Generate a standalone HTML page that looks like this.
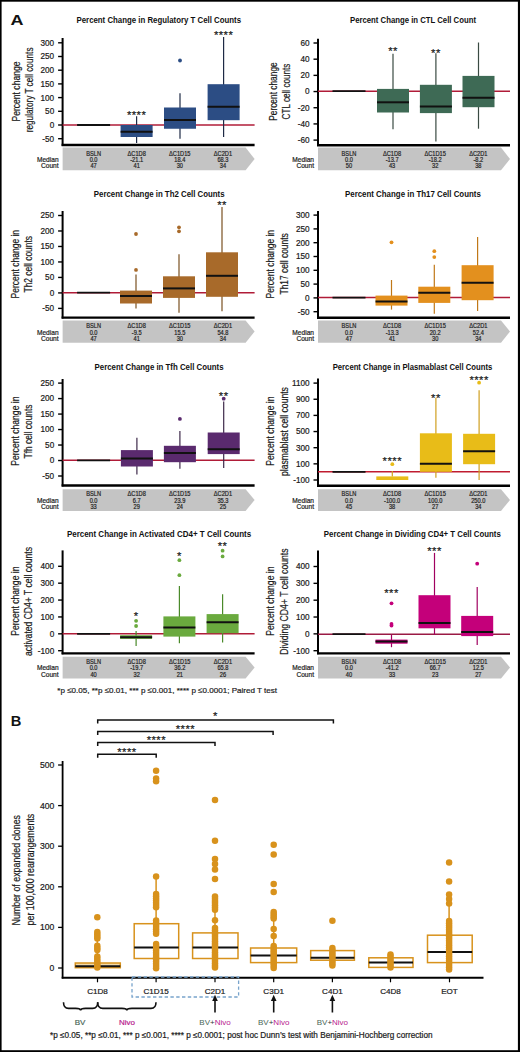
<!DOCTYPE html>
<html><head><meta charset="utf-8"><title>Figure</title>
<style>html,body{margin:0;padding:0;background:#fff;width:520px;height:1052px;overflow:hidden}</style>
</head><body>
<svg width="520" height="1052" viewBox="0 0 520 1052" style="display:block;font-family:'Liberation Sans', sans-serif">
<rect x="0.00" y="0.00" width="520.00" height="1052.00" fill="#000" stroke="none" stroke-width="0"/>
<rect x="1.60" y="1.70" width="516.30" height="1048.50" fill="#fff" stroke="none" stroke-width="0"/>
<text x="10.60" y="25.40" font-size="15.0" text-anchor="start" font-weight="bold" fill="#111" textLength="13.0" lengthAdjust="spacingAndGlyphs">A</text>
<text x="158.75" y="23.00" font-size="8.2" text-anchor="middle" font-weight="bold" fill="#111" textLength="164.5" lengthAdjust="spacingAndGlyphs">Percent Change in Regulatory T Cell Counts</text>
<text transform="translate(19.90,91.55) rotate(-90)" x="0" y="0" font-size="10.2" text-anchor="middle" font-weight="normal" fill="#1a1a1a" stroke="#1a1a1a" stroke-width="0.2" textLength="59.9" lengthAdjust="spacingAndGlyphs">Percent change</text>
<text transform="translate(33.20,89.90) rotate(-90)" x="0" y="0" font-size="10.2" text-anchor="middle" font-weight="normal" fill="#1a1a1a" stroke="#1a1a1a" stroke-width="0.2" textLength="84.80000000000001" lengthAdjust="spacingAndGlyphs">regulatory T cell counts</text>
<line x1="62.60" y1="38.00" x2="62.60" y2="145.90" stroke="#000" stroke-width="2.0"/>
<line x1="61.60" y1="145.00" x2="254.60" y2="145.00" stroke="#000" stroke-width="2.4"/>
<line x1="58.10" y1="42.80" x2="62.60" y2="42.80" stroke="#000" stroke-width="1.4"/>
<text x="54.20" y="45.70" font-size="8.2" text-anchor="end" font-weight="normal" fill="#1a1a1a" stroke="#1a1a1a" stroke-width="0.2">300</text>
<line x1="58.10" y1="56.50" x2="62.60" y2="56.50" stroke="#000" stroke-width="1.4"/>
<text x="54.20" y="59.40" font-size="8.2" text-anchor="end" font-weight="normal" fill="#1a1a1a" stroke="#1a1a1a" stroke-width="0.2">250</text>
<line x1="58.10" y1="70.20" x2="62.60" y2="70.20" stroke="#000" stroke-width="1.4"/>
<text x="54.20" y="73.10" font-size="8.2" text-anchor="end" font-weight="normal" fill="#1a1a1a" stroke="#1a1a1a" stroke-width="0.2">200</text>
<line x1="58.10" y1="83.90" x2="62.60" y2="83.90" stroke="#000" stroke-width="1.4"/>
<text x="54.20" y="86.80" font-size="8.2" text-anchor="end" font-weight="normal" fill="#1a1a1a" stroke="#1a1a1a" stroke-width="0.2">150</text>
<line x1="58.10" y1="97.60" x2="62.60" y2="97.60" stroke="#000" stroke-width="1.4"/>
<text x="54.20" y="100.50" font-size="8.2" text-anchor="end" font-weight="normal" fill="#1a1a1a" stroke="#1a1a1a" stroke-width="0.2">100</text>
<line x1="58.10" y1="111.30" x2="62.60" y2="111.30" stroke="#000" stroke-width="1.4"/>
<text x="54.20" y="114.20" font-size="8.2" text-anchor="end" font-weight="normal" fill="#1a1a1a" stroke="#1a1a1a" stroke-width="0.2">50</text>
<line x1="58.10" y1="125.00" x2="62.60" y2="125.00" stroke="#000" stroke-width="1.4"/>
<text x="54.20" y="127.90" font-size="8.2" text-anchor="end" font-weight="normal" fill="#1a1a1a" stroke="#1a1a1a" stroke-width="0.2">0</text>
<line x1="58.10" y1="138.70" x2="62.60" y2="138.70" stroke="#000" stroke-width="1.4"/>
<text x="54.20" y="141.60" font-size="8.2" text-anchor="end" font-weight="normal" fill="#1a1a1a" stroke="#1a1a1a" stroke-width="0.2">-50</text>
<line x1="62.60" y1="125.00" x2="254.60" y2="125.00" stroke="#b01c38" stroke-width="1.5"/>
<line x1="77.10" y1="125.00" x2="110.10" y2="125.00" stroke="#111" stroke-width="1.8"/>
<line x1="136.60" y1="116.25" x2="136.60" y2="143.00" stroke="#1e2a45" stroke-width="1.2"/>
<rect x="120.60" y="125.00" width="32.00" height="12.00" fill="#2c4d84" stroke="none" stroke-width="0"/>
<line x1="120.60" y1="131.75" x2="152.60" y2="131.75" stroke="#111" stroke-width="2.0"/>
<text x="136.60" y="118.50" font-size="11.2" text-anchor="middle" font-weight="normal" fill="#1a1a1a" stroke="#1a1a1a" stroke-width="0.2" letter-spacing="0.5">****</text>
<line x1="180.00" y1="93.25" x2="180.00" y2="138.75" stroke="#1e2a45" stroke-width="1.2"/>
<rect x="164.00" y="107.50" width="32.00" height="21.25" fill="#2c4d84" stroke="none" stroke-width="0"/>
<line x1="164.00" y1="120.00" x2="196.00" y2="120.00" stroke="#111" stroke-width="2.0"/>
<circle cx="180.00" cy="60.50" r="1.9" fill="#2c4d84"/>
<line x1="223.60" y1="37.00" x2="223.60" y2="137.00" stroke="#1e2a45" stroke-width="1.2"/>
<rect x="207.60" y="84.20" width="32.00" height="36.00" fill="#2c4d84" stroke="none" stroke-width="0"/>
<line x1="207.60" y1="106.80" x2="239.60" y2="106.80" stroke="#111" stroke-width="2.0"/>
<text x="223.60" y="38.50" font-size="11.2" text-anchor="middle" font-weight="normal" fill="#1a1a1a" stroke="#1a1a1a" stroke-width="0.2" letter-spacing="0.5">****</text>
<polygon points="62.60,147.50 245.60,147.50 254.60,158.90 245.60,170.30 62.60,170.30" fill="#c4c4c4"/>
<text x="93.60" y="155.70" font-size="6.6" text-anchor="middle" font-weight="normal" fill="#222" stroke="#222" stroke-width="0.2" textLength="14.83" lengthAdjust="spacingAndGlyphs">BSLN</text>
<text x="93.60" y="162.20" font-size="6.6" text-anchor="middle" font-weight="normal" fill="#222" stroke="#222" stroke-width="0.2" textLength="7.89" lengthAdjust="spacingAndGlyphs">0.0</text>
<text x="93.60" y="168.20" font-size="6.6" text-anchor="middle" font-weight="normal" fill="#222" stroke="#222" stroke-width="0.2" textLength="6.31" lengthAdjust="spacingAndGlyphs">47</text>
<text x="136.70" y="155.70" font-size="6.6" text-anchor="middle" font-weight="normal" fill="#222" stroke="#222" stroke-width="0.2" textLength="18.3" lengthAdjust="spacingAndGlyphs">ΔC1D8</text>
<text x="136.70" y="162.20" font-size="6.6" text-anchor="middle" font-weight="normal" fill="#222" stroke="#222" stroke-width="0.2" textLength="12.94" lengthAdjust="spacingAndGlyphs">-21.1</text>
<text x="136.70" y="168.20" font-size="6.6" text-anchor="middle" font-weight="normal" fill="#222" stroke="#222" stroke-width="0.2" textLength="6.31" lengthAdjust="spacingAndGlyphs">41</text>
<text x="179.80" y="155.70" font-size="6.6" text-anchor="middle" font-weight="normal" fill="#222" stroke="#222" stroke-width="0.2" textLength="21.46" lengthAdjust="spacingAndGlyphs">ΔC1D15</text>
<text x="179.80" y="162.20" font-size="6.6" text-anchor="middle" font-weight="normal" fill="#222" stroke="#222" stroke-width="0.2" textLength="11.05" lengthAdjust="spacingAndGlyphs">18.4</text>
<text x="179.80" y="168.20" font-size="6.6" text-anchor="middle" font-weight="normal" fill="#222" stroke="#222" stroke-width="0.2" textLength="6.31" lengthAdjust="spacingAndGlyphs">30</text>
<text x="222.90" y="155.70" font-size="6.6" text-anchor="middle" font-weight="normal" fill="#222" stroke="#222" stroke-width="0.2" textLength="18.3" lengthAdjust="spacingAndGlyphs">ΔC2D1</text>
<text x="222.90" y="162.20" font-size="6.6" text-anchor="middle" font-weight="normal" fill="#222" stroke="#222" stroke-width="0.2" textLength="11.05" lengthAdjust="spacingAndGlyphs">68.3</text>
<text x="222.90" y="168.20" font-size="6.6" text-anchor="middle" font-weight="normal" fill="#222" stroke="#222" stroke-width="0.2" textLength="6.31" lengthAdjust="spacingAndGlyphs">34</text>
<text x="58.60" y="162.10" font-size="6.6" text-anchor="end" font-weight="normal" fill="#222" stroke="#222" stroke-width="0.2">Median</text>
<text x="58.60" y="168.10" font-size="6.6" text-anchor="end" font-weight="normal" fill="#222" stroke="#222" stroke-width="0.2">Count</text>
<text x="413.00" y="23.00" font-size="8.2" text-anchor="middle" font-weight="bold" fill="#111" textLength="126" lengthAdjust="spacingAndGlyphs">Percent Change in CTL Cell Count</text>
<text transform="translate(276.50,91.55) rotate(-90)" x="0" y="0" font-size="10.2" text-anchor="middle" font-weight="normal" fill="#1a1a1a" stroke="#1a1a1a" stroke-width="0.2" textLength="58.5" lengthAdjust="spacingAndGlyphs">Percent change</text>
<text transform="translate(289.80,91.55) rotate(-90)" x="0" y="0" font-size="10.2" text-anchor="middle" font-weight="normal" fill="#1a1a1a" stroke="#1a1a1a" stroke-width="0.2" textLength="55.9" lengthAdjust="spacingAndGlyphs">CTL cell counts</text>
<line x1="318.00" y1="38.70" x2="318.00" y2="146.10" stroke="#000" stroke-width="2.0"/>
<line x1="317.00" y1="145.20" x2="510.00" y2="145.20" stroke="#000" stroke-width="2.4"/>
<line x1="313.50" y1="43.00" x2="318.00" y2="43.00" stroke="#000" stroke-width="1.4"/>
<text x="309.60" y="45.90" font-size="8.2" text-anchor="end" font-weight="normal" fill="#1a1a1a" stroke="#1a1a1a" stroke-width="0.2">60</text>
<line x1="313.50" y1="59.18" x2="318.00" y2="59.18" stroke="#000" stroke-width="1.4"/>
<text x="309.60" y="62.08" font-size="8.2" text-anchor="end" font-weight="normal" fill="#1a1a1a" stroke="#1a1a1a" stroke-width="0.2">40</text>
<line x1="313.50" y1="75.37" x2="318.00" y2="75.37" stroke="#000" stroke-width="1.4"/>
<text x="309.60" y="78.27" font-size="8.2" text-anchor="end" font-weight="normal" fill="#1a1a1a" stroke="#1a1a1a" stroke-width="0.2">20</text>
<line x1="313.50" y1="91.55" x2="318.00" y2="91.55" stroke="#000" stroke-width="1.4"/>
<text x="309.60" y="94.45" font-size="8.2" text-anchor="end" font-weight="normal" fill="#1a1a1a" stroke="#1a1a1a" stroke-width="0.2">0</text>
<line x1="313.50" y1="107.73" x2="318.00" y2="107.73" stroke="#000" stroke-width="1.4"/>
<text x="309.60" y="110.63" font-size="8.2" text-anchor="end" font-weight="normal" fill="#1a1a1a" stroke="#1a1a1a" stroke-width="0.2">-20</text>
<line x1="313.50" y1="123.92" x2="318.00" y2="123.92" stroke="#000" stroke-width="1.4"/>
<text x="309.60" y="126.82" font-size="8.2" text-anchor="end" font-weight="normal" fill="#1a1a1a" stroke="#1a1a1a" stroke-width="0.2">-40</text>
<line x1="313.50" y1="140.10" x2="318.00" y2="140.10" stroke="#000" stroke-width="1.4"/>
<text x="309.60" y="143.00" font-size="8.2" text-anchor="end" font-weight="normal" fill="#1a1a1a" stroke="#1a1a1a" stroke-width="0.2">-60</text>
<line x1="318.00" y1="91.20" x2="510.00" y2="91.20" stroke="#b01c38" stroke-width="1.5"/>
<line x1="332.50" y1="91.20" x2="365.50" y2="91.20" stroke="#111" stroke-width="1.8"/>
<line x1="393.00" y1="53.80" x2="393.00" y2="129.20" stroke="#3a4a42" stroke-width="1.2"/>
<rect x="377.00" y="88.90" width="32.00" height="23.60" fill="#3e6a55" stroke="none" stroke-width="0"/>
<line x1="377.00" y1="102.30" x2="409.00" y2="102.30" stroke="#111" stroke-width="2.0"/>
<text x="393.00" y="55.00" font-size="11.2" text-anchor="middle" font-weight="normal" fill="#1a1a1a" stroke="#1a1a1a" stroke-width="0.2" letter-spacing="0.5">**</text>
<line x1="435.90" y1="53.30" x2="435.90" y2="141.40" stroke="#3a4a42" stroke-width="1.2"/>
<rect x="419.90" y="84.80" width="32.00" height="28.30" fill="#3e6a55" stroke="none" stroke-width="0"/>
<line x1="419.90" y1="106.40" x2="451.90" y2="106.40" stroke="#111" stroke-width="2.0"/>
<text x="435.90" y="56.60" font-size="11.2" text-anchor="middle" font-weight="normal" fill="#1a1a1a" stroke="#1a1a1a" stroke-width="0.2" letter-spacing="0.5">**</text>
<line x1="478.50" y1="42.50" x2="478.50" y2="128.70" stroke="#3a4a42" stroke-width="1.2"/>
<rect x="462.50" y="75.90" width="32.00" height="31.30" fill="#3e6a55" stroke="none" stroke-width="0"/>
<line x1="462.50" y1="97.70" x2="494.50" y2="97.70" stroke="#111" stroke-width="2.0"/>
<polygon points="318.00,147.50 501.00,147.50 510.00,158.90 501.00,170.30 318.00,170.30" fill="#c4c4c4"/>
<text x="349.00" y="155.70" font-size="6.6" text-anchor="middle" font-weight="normal" fill="#222" stroke="#222" stroke-width="0.2" textLength="14.83" lengthAdjust="spacingAndGlyphs">BSLN</text>
<text x="349.00" y="162.20" font-size="6.6" text-anchor="middle" font-weight="normal" fill="#222" stroke="#222" stroke-width="0.2" textLength="7.89" lengthAdjust="spacingAndGlyphs">0.0</text>
<text x="349.00" y="168.20" font-size="6.6" text-anchor="middle" font-weight="normal" fill="#222" stroke="#222" stroke-width="0.2" textLength="6.31" lengthAdjust="spacingAndGlyphs">50</text>
<text x="392.10" y="155.70" font-size="6.6" text-anchor="middle" font-weight="normal" fill="#222" stroke="#222" stroke-width="0.2" textLength="18.3" lengthAdjust="spacingAndGlyphs">ΔC1D8</text>
<text x="392.10" y="162.20" font-size="6.6" text-anchor="middle" font-weight="normal" fill="#222" stroke="#222" stroke-width="0.2" textLength="12.94" lengthAdjust="spacingAndGlyphs">-13.7</text>
<text x="392.10" y="168.20" font-size="6.6" text-anchor="middle" font-weight="normal" fill="#222" stroke="#222" stroke-width="0.2" textLength="6.31" lengthAdjust="spacingAndGlyphs">43</text>
<text x="435.20" y="155.70" font-size="6.6" text-anchor="middle" font-weight="normal" fill="#222" stroke="#222" stroke-width="0.2" textLength="21.46" lengthAdjust="spacingAndGlyphs">ΔC1D15</text>
<text x="435.20" y="162.20" font-size="6.6" text-anchor="middle" font-weight="normal" fill="#222" stroke="#222" stroke-width="0.2" textLength="12.94" lengthAdjust="spacingAndGlyphs">-18.2</text>
<text x="435.20" y="168.20" font-size="6.6" text-anchor="middle" font-weight="normal" fill="#222" stroke="#222" stroke-width="0.2" textLength="6.31" lengthAdjust="spacingAndGlyphs">32</text>
<text x="478.30" y="155.70" font-size="6.6" text-anchor="middle" font-weight="normal" fill="#222" stroke="#222" stroke-width="0.2" textLength="18.3" lengthAdjust="spacingAndGlyphs">ΔC2D1</text>
<text x="478.30" y="162.20" font-size="6.6" text-anchor="middle" font-weight="normal" fill="#222" stroke="#222" stroke-width="0.2" textLength="9.78" lengthAdjust="spacingAndGlyphs">-8.2</text>
<text x="478.30" y="168.20" font-size="6.6" text-anchor="middle" font-weight="normal" fill="#222" stroke="#222" stroke-width="0.2" textLength="6.31" lengthAdjust="spacingAndGlyphs">38</text>
<text x="314.00" y="162.10" font-size="6.6" text-anchor="end" font-weight="normal" fill="#222" stroke="#222" stroke-width="0.2">Median</text>
<text x="314.00" y="168.10" font-size="6.6" text-anchor="end" font-weight="normal" fill="#222" stroke="#222" stroke-width="0.2">Count</text>
<text x="159.20" y="196.90" font-size="8.2" text-anchor="middle" font-weight="bold" fill="#111" textLength="130.8" lengthAdjust="spacingAndGlyphs">Percent Change in Th2 Cell Counts</text>
<text transform="translate(18.90,264.20) rotate(-90)" x="0" y="0" font-size="10.2" text-anchor="middle" font-weight="normal" fill="#1a1a1a" stroke="#1a1a1a" stroke-width="0.2" textLength="68.6" lengthAdjust="spacingAndGlyphs">Percent change in</text>
<text transform="translate(32.20,264.25) rotate(-90)" x="0" y="0" font-size="10.2" text-anchor="middle" font-weight="normal" fill="#1a1a1a" stroke="#1a1a1a" stroke-width="0.2" textLength="56.5" lengthAdjust="spacingAndGlyphs">Th2 cell counts</text>
<line x1="62.60" y1="211.00" x2="62.60" y2="318.50" stroke="#000" stroke-width="2.0"/>
<line x1="61.60" y1="317.60" x2="254.60" y2="317.60" stroke="#000" stroke-width="2.4"/>
<line x1="58.10" y1="215.50" x2="62.60" y2="215.50" stroke="#000" stroke-width="1.4"/>
<text x="54.20" y="218.40" font-size="8.2" text-anchor="end" font-weight="normal" fill="#1a1a1a" stroke="#1a1a1a" stroke-width="0.2">250</text>
<line x1="58.10" y1="230.98" x2="62.60" y2="230.98" stroke="#000" stroke-width="1.4"/>
<text x="54.20" y="233.88" font-size="8.2" text-anchor="end" font-weight="normal" fill="#1a1a1a" stroke="#1a1a1a" stroke-width="0.2">200</text>
<line x1="58.10" y1="246.47" x2="62.60" y2="246.47" stroke="#000" stroke-width="1.4"/>
<text x="54.20" y="249.37" font-size="8.2" text-anchor="end" font-weight="normal" fill="#1a1a1a" stroke="#1a1a1a" stroke-width="0.2">150</text>
<line x1="58.10" y1="261.95" x2="62.60" y2="261.95" stroke="#000" stroke-width="1.4"/>
<text x="54.20" y="264.85" font-size="8.2" text-anchor="end" font-weight="normal" fill="#1a1a1a" stroke="#1a1a1a" stroke-width="0.2">100</text>
<line x1="58.10" y1="277.43" x2="62.60" y2="277.43" stroke="#000" stroke-width="1.4"/>
<text x="54.20" y="280.33" font-size="8.2" text-anchor="end" font-weight="normal" fill="#1a1a1a" stroke="#1a1a1a" stroke-width="0.2">50</text>
<line x1="58.10" y1="292.92" x2="62.60" y2="292.92" stroke="#000" stroke-width="1.4"/>
<text x="54.20" y="295.82" font-size="8.2" text-anchor="end" font-weight="normal" fill="#1a1a1a" stroke="#1a1a1a" stroke-width="0.2">0</text>
<line x1="58.10" y1="308.40" x2="62.60" y2="308.40" stroke="#000" stroke-width="1.4"/>
<text x="54.20" y="311.30" font-size="8.2" text-anchor="end" font-weight="normal" fill="#1a1a1a" stroke="#1a1a1a" stroke-width="0.2">-50</text>
<line x1="62.60" y1="292.70" x2="254.60" y2="292.70" stroke="#b01c38" stroke-width="1.5"/>
<line x1="77.10" y1="292.70" x2="110.10" y2="292.70" stroke="#111" stroke-width="1.8"/>
<line x1="136.00" y1="274.40" x2="136.00" y2="308.60" stroke="#7a5020" stroke-width="1.2"/>
<rect x="120.00" y="290.60" width="32.00" height="12.90" fill="#a86a2a" stroke="none" stroke-width="0"/>
<line x1="120.00" y1="296.00" x2="152.00" y2="296.00" stroke="#111" stroke-width="2.0"/>
<circle cx="136.00" cy="234.00" r="1.9" fill="#a86a2a"/>
<circle cx="136.00" cy="269.90" r="1.9" fill="#a86a2a"/>
<line x1="179.00" y1="254.20" x2="179.00" y2="312.70" stroke="#7a5020" stroke-width="1.2"/>
<rect x="163.00" y="276.30" width="32.00" height="21.60" fill="#a86a2a" stroke="none" stroke-width="0"/>
<line x1="163.00" y1="288.40" x2="195.00" y2="288.40" stroke="#111" stroke-width="2.0"/>
<circle cx="179.00" cy="227.30" r="1.9" fill="#a86a2a"/>
<circle cx="179.00" cy="231.30" r="1.9" fill="#a86a2a"/>
<line x1="222.00" y1="207.10" x2="222.00" y2="311.30" stroke="#7a5020" stroke-width="1.2"/>
<rect x="206.00" y="252.30" width="32.00" height="44.50" fill="#a86a2a" stroke="none" stroke-width="0"/>
<line x1="206.00" y1="275.80" x2="238.00" y2="275.80" stroke="#111" stroke-width="2.0"/>
<text x="222.00" y="209.00" font-size="11.2" text-anchor="middle" font-weight="normal" fill="#1a1a1a" stroke="#1a1a1a" stroke-width="0.2" letter-spacing="0.5">**</text>
<polygon points="62.60,320.50 245.60,320.50 254.60,331.60 245.60,342.70 62.60,342.70" fill="#c4c4c4"/>
<text x="93.60" y="328.40" font-size="6.6" text-anchor="middle" font-weight="normal" fill="#222" stroke="#222" stroke-width="0.2" textLength="14.83" lengthAdjust="spacingAndGlyphs">BSLN</text>
<text x="93.60" y="334.65" font-size="6.6" text-anchor="middle" font-weight="normal" fill="#222" stroke="#222" stroke-width="0.2" textLength="7.89" lengthAdjust="spacingAndGlyphs">0.0</text>
<text x="93.60" y="341.15" font-size="6.6" text-anchor="middle" font-weight="normal" fill="#222" stroke="#222" stroke-width="0.2" textLength="6.31" lengthAdjust="spacingAndGlyphs">47</text>
<text x="136.70" y="328.40" font-size="6.6" text-anchor="middle" font-weight="normal" fill="#222" stroke="#222" stroke-width="0.2" textLength="18.3" lengthAdjust="spacingAndGlyphs">ΔC1D8</text>
<text x="136.70" y="334.65" font-size="6.6" text-anchor="middle" font-weight="normal" fill="#222" stroke="#222" stroke-width="0.2" textLength="9.78" lengthAdjust="spacingAndGlyphs">-9.5</text>
<text x="136.70" y="341.15" font-size="6.6" text-anchor="middle" font-weight="normal" fill="#222" stroke="#222" stroke-width="0.2" textLength="6.31" lengthAdjust="spacingAndGlyphs">41</text>
<text x="179.80" y="328.40" font-size="6.6" text-anchor="middle" font-weight="normal" fill="#222" stroke="#222" stroke-width="0.2" textLength="21.46" lengthAdjust="spacingAndGlyphs">ΔC1D15</text>
<text x="179.80" y="334.65" font-size="6.6" text-anchor="middle" font-weight="normal" fill="#222" stroke="#222" stroke-width="0.2" textLength="11.05" lengthAdjust="spacingAndGlyphs">15.5</text>
<text x="179.80" y="341.15" font-size="6.6" text-anchor="middle" font-weight="normal" fill="#222" stroke="#222" stroke-width="0.2" textLength="6.31" lengthAdjust="spacingAndGlyphs">30</text>
<text x="222.90" y="328.40" font-size="6.6" text-anchor="middle" font-weight="normal" fill="#222" stroke="#222" stroke-width="0.2" textLength="18.3" lengthAdjust="spacingAndGlyphs">ΔC2D1</text>
<text x="222.90" y="334.65" font-size="6.6" text-anchor="middle" font-weight="normal" fill="#222" stroke="#222" stroke-width="0.2" textLength="11.05" lengthAdjust="spacingAndGlyphs">54.8</text>
<text x="222.90" y="341.15" font-size="6.6" text-anchor="middle" font-weight="normal" fill="#222" stroke="#222" stroke-width="0.2" textLength="6.31" lengthAdjust="spacingAndGlyphs">34</text>
<text x="58.60" y="334.55" font-size="6.6" text-anchor="end" font-weight="normal" fill="#222" stroke="#222" stroke-width="0.2">Median</text>
<text x="58.60" y="341.05" font-size="6.6" text-anchor="end" font-weight="normal" fill="#222" stroke="#222" stroke-width="0.2">Count</text>
<text x="412.90" y="196.90" font-size="8.2" text-anchor="middle" font-weight="bold" fill="#111" textLength="135.8" lengthAdjust="spacingAndGlyphs">Percent Change in Th17 Cell Counts</text>
<text transform="translate(274.30,264.20) rotate(-90)" x="0" y="0" font-size="10.2" text-anchor="middle" font-weight="normal" fill="#1a1a1a" stroke="#1a1a1a" stroke-width="0.2" textLength="68.6" lengthAdjust="spacingAndGlyphs">Percent change in</text>
<text transform="translate(287.60,263.90) rotate(-90)" x="0" y="0" font-size="10.2" text-anchor="middle" font-weight="normal" fill="#1a1a1a" stroke="#1a1a1a" stroke-width="0.2" textLength="61.19999999999999" lengthAdjust="spacingAndGlyphs">Th17 cell counts</text>
<line x1="318.00" y1="211.00" x2="318.00" y2="318.70" stroke="#000" stroke-width="2.0"/>
<line x1="317.00" y1="317.80" x2="510.00" y2="317.80" stroke="#000" stroke-width="2.4"/>
<line x1="313.50" y1="215.10" x2="318.00" y2="215.10" stroke="#000" stroke-width="1.4"/>
<text x="309.60" y="218.00" font-size="8.2" text-anchor="end" font-weight="normal" fill="#1a1a1a" stroke="#1a1a1a" stroke-width="0.2">300</text>
<line x1="313.50" y1="228.90" x2="318.00" y2="228.90" stroke="#000" stroke-width="1.4"/>
<text x="309.60" y="231.80" font-size="8.2" text-anchor="end" font-weight="normal" fill="#1a1a1a" stroke="#1a1a1a" stroke-width="0.2">250</text>
<line x1="313.50" y1="242.70" x2="318.00" y2="242.70" stroke="#000" stroke-width="1.4"/>
<text x="309.60" y="245.60" font-size="8.2" text-anchor="end" font-weight="normal" fill="#1a1a1a" stroke="#1a1a1a" stroke-width="0.2">200</text>
<line x1="313.50" y1="256.50" x2="318.00" y2="256.50" stroke="#000" stroke-width="1.4"/>
<text x="309.60" y="259.40" font-size="8.2" text-anchor="end" font-weight="normal" fill="#1a1a1a" stroke="#1a1a1a" stroke-width="0.2">150</text>
<line x1="313.50" y1="270.30" x2="318.00" y2="270.30" stroke="#000" stroke-width="1.4"/>
<text x="309.60" y="273.20" font-size="8.2" text-anchor="end" font-weight="normal" fill="#1a1a1a" stroke="#1a1a1a" stroke-width="0.2">100</text>
<line x1="313.50" y1="284.10" x2="318.00" y2="284.10" stroke="#000" stroke-width="1.4"/>
<text x="309.60" y="287.00" font-size="8.2" text-anchor="end" font-weight="normal" fill="#1a1a1a" stroke="#1a1a1a" stroke-width="0.2">50</text>
<line x1="313.50" y1="297.90" x2="318.00" y2="297.90" stroke="#000" stroke-width="1.4"/>
<text x="309.60" y="300.80" font-size="8.2" text-anchor="end" font-weight="normal" fill="#1a1a1a" stroke="#1a1a1a" stroke-width="0.2">0</text>
<line x1="313.50" y1="311.70" x2="318.00" y2="311.70" stroke="#000" stroke-width="1.4"/>
<text x="309.60" y="314.60" font-size="8.2" text-anchor="end" font-weight="normal" fill="#1a1a1a" stroke="#1a1a1a" stroke-width="0.2">-50</text>
<line x1="318.00" y1="297.60" x2="510.00" y2="297.60" stroke="#b01c38" stroke-width="1.5"/>
<line x1="332.50" y1="297.60" x2="365.50" y2="297.60" stroke="#111" stroke-width="1.8"/>
<line x1="391.50" y1="280.00" x2="391.50" y2="309.60" stroke="#c07818" stroke-width="1.2"/>
<rect x="375.50" y="295.60" width="32.00" height="10.00" fill="#e3901e" stroke="none" stroke-width="0"/>
<line x1="375.50" y1="301.50" x2="407.50" y2="301.50" stroke="#111" stroke-width="2.0"/>
<circle cx="391.50" cy="242.30" r="1.9" fill="#e3901e"/>
<line x1="434.30" y1="264.70" x2="434.30" y2="313.70" stroke="#c07818" stroke-width="1.2"/>
<rect x="418.30" y="286.70" width="32.00" height="16.20" fill="#e3901e" stroke="none" stroke-width="0"/>
<line x1="418.30" y1="292.70" x2="450.30" y2="292.70" stroke="#111" stroke-width="2.0"/>
<circle cx="434.30" cy="251.20" r="1.9" fill="#e3901e"/>
<circle cx="434.30" cy="257.10" r="1.9" fill="#e3901e"/>
<line x1="477.60" y1="236.90" x2="477.60" y2="311.00" stroke="#c07818" stroke-width="1.2"/>
<rect x="461.60" y="265.20" width="32.00" height="35.00" fill="#e3901e" stroke="none" stroke-width="0"/>
<line x1="461.60" y1="282.70" x2="493.60" y2="282.70" stroke="#111" stroke-width="2.0"/>
<polygon points="318.00,320.50 501.00,320.50 510.00,331.60 501.00,342.70 318.00,342.70" fill="#c4c4c4"/>
<text x="349.00" y="328.40" font-size="6.6" text-anchor="middle" font-weight="normal" fill="#222" stroke="#222" stroke-width="0.2" textLength="14.83" lengthAdjust="spacingAndGlyphs">BSLN</text>
<text x="349.00" y="334.65" font-size="6.6" text-anchor="middle" font-weight="normal" fill="#222" stroke="#222" stroke-width="0.2" textLength="7.89" lengthAdjust="spacingAndGlyphs">0.0</text>
<text x="349.00" y="341.15" font-size="6.6" text-anchor="middle" font-weight="normal" fill="#222" stroke="#222" stroke-width="0.2" textLength="6.31" lengthAdjust="spacingAndGlyphs">47</text>
<text x="392.10" y="328.40" font-size="6.6" text-anchor="middle" font-weight="normal" fill="#222" stroke="#222" stroke-width="0.2" textLength="18.3" lengthAdjust="spacingAndGlyphs">ΔC1D8</text>
<text x="392.10" y="334.65" font-size="6.6" text-anchor="middle" font-weight="normal" fill="#222" stroke="#222" stroke-width="0.2" textLength="12.94" lengthAdjust="spacingAndGlyphs">-13.3</text>
<text x="392.10" y="341.15" font-size="6.6" text-anchor="middle" font-weight="normal" fill="#222" stroke="#222" stroke-width="0.2" textLength="6.31" lengthAdjust="spacingAndGlyphs">41</text>
<text x="435.20" y="328.40" font-size="6.6" text-anchor="middle" font-weight="normal" fill="#222" stroke="#222" stroke-width="0.2" textLength="21.46" lengthAdjust="spacingAndGlyphs">ΔC1D15</text>
<text x="435.20" y="334.65" font-size="6.6" text-anchor="middle" font-weight="normal" fill="#222" stroke="#222" stroke-width="0.2" textLength="11.05" lengthAdjust="spacingAndGlyphs">20.2</text>
<text x="435.20" y="341.15" font-size="6.6" text-anchor="middle" font-weight="normal" fill="#222" stroke="#222" stroke-width="0.2" textLength="6.31" lengthAdjust="spacingAndGlyphs">30</text>
<text x="478.30" y="328.40" font-size="6.6" text-anchor="middle" font-weight="normal" fill="#222" stroke="#222" stroke-width="0.2" textLength="18.3" lengthAdjust="spacingAndGlyphs">ΔC2D1</text>
<text x="478.30" y="334.65" font-size="6.6" text-anchor="middle" font-weight="normal" fill="#222" stroke="#222" stroke-width="0.2" textLength="11.05" lengthAdjust="spacingAndGlyphs">52.4</text>
<text x="478.30" y="341.15" font-size="6.6" text-anchor="middle" font-weight="normal" fill="#222" stroke="#222" stroke-width="0.2" textLength="6.31" lengthAdjust="spacingAndGlyphs">34</text>
<text x="314.00" y="334.55" font-size="6.6" text-anchor="end" font-weight="normal" fill="#222" stroke="#222" stroke-width="0.2">Median</text>
<text x="314.00" y="341.05" font-size="6.6" text-anchor="end" font-weight="normal" fill="#222" stroke="#222" stroke-width="0.2">Count</text>
<text x="159.05" y="369.90" font-size="8.2" text-anchor="middle" font-weight="bold" fill="#111" textLength="128.9" lengthAdjust="spacingAndGlyphs">Percent Change in Tfh Cell Counts</text>
<text transform="translate(18.90,431.15) rotate(-90)" x="0" y="0" font-size="10.2" text-anchor="middle" font-weight="normal" fill="#1a1a1a" stroke="#1a1a1a" stroke-width="0.2" textLength="69.30000000000001" lengthAdjust="spacingAndGlyphs">Percent change in</text>
<text transform="translate(32.20,431.50) rotate(-90)" x="0" y="0" font-size="10.2" text-anchor="middle" font-weight="normal" fill="#1a1a1a" stroke="#1a1a1a" stroke-width="0.2" textLength="53.799999999999955" lengthAdjust="spacingAndGlyphs">Tfh cell counts</text>
<line x1="62.60" y1="379.00" x2="62.60" y2="486.40" stroke="#000" stroke-width="2.0"/>
<line x1="61.60" y1="485.50" x2="254.60" y2="485.50" stroke="#000" stroke-width="2.4"/>
<line x1="58.10" y1="383.10" x2="62.60" y2="383.10" stroke="#000" stroke-width="1.4"/>
<text x="54.20" y="386.00" font-size="8.2" text-anchor="end" font-weight="normal" fill="#1a1a1a" stroke="#1a1a1a" stroke-width="0.2">250</text>
<line x1="58.10" y1="398.58" x2="62.60" y2="398.58" stroke="#000" stroke-width="1.4"/>
<text x="54.20" y="401.48" font-size="8.2" text-anchor="end" font-weight="normal" fill="#1a1a1a" stroke="#1a1a1a" stroke-width="0.2">200</text>
<line x1="58.10" y1="414.07" x2="62.60" y2="414.07" stroke="#000" stroke-width="1.4"/>
<text x="54.20" y="416.97" font-size="8.2" text-anchor="end" font-weight="normal" fill="#1a1a1a" stroke="#1a1a1a" stroke-width="0.2">150</text>
<line x1="58.10" y1="429.55" x2="62.60" y2="429.55" stroke="#000" stroke-width="1.4"/>
<text x="54.20" y="432.45" font-size="8.2" text-anchor="end" font-weight="normal" fill="#1a1a1a" stroke="#1a1a1a" stroke-width="0.2">100</text>
<line x1="58.10" y1="445.03" x2="62.60" y2="445.03" stroke="#000" stroke-width="1.4"/>
<text x="54.20" y="447.93" font-size="8.2" text-anchor="end" font-weight="normal" fill="#1a1a1a" stroke="#1a1a1a" stroke-width="0.2">50</text>
<line x1="58.10" y1="460.52" x2="62.60" y2="460.52" stroke="#000" stroke-width="1.4"/>
<text x="54.20" y="463.42" font-size="8.2" text-anchor="end" font-weight="normal" fill="#1a1a1a" stroke="#1a1a1a" stroke-width="0.2">0</text>
<line x1="58.10" y1="476.00" x2="62.60" y2="476.00" stroke="#000" stroke-width="1.4"/>
<text x="54.20" y="478.90" font-size="8.2" text-anchor="end" font-weight="normal" fill="#1a1a1a" stroke="#1a1a1a" stroke-width="0.2">-50</text>
<line x1="62.60" y1="460.30" x2="254.60" y2="460.30" stroke="#b01c38" stroke-width="1.5"/>
<line x1="77.10" y1="460.30" x2="110.10" y2="460.30" stroke="#111" stroke-width="1.8"/>
<line x1="136.90" y1="437.70" x2="136.90" y2="474.60" stroke="#3e2a4a" stroke-width="1.2"/>
<rect x="120.90" y="450.10" width="32.00" height="16.40" fill="#5a2a6e" stroke="none" stroke-width="0"/>
<line x1="120.90" y1="458.50" x2="152.90" y2="458.50" stroke="#111" stroke-width="2.0"/>
<line x1="179.90" y1="431.00" x2="179.90" y2="468.80" stroke="#3e2a4a" stroke-width="1.2"/>
<rect x="163.90" y="445.80" width="32.00" height="16.40" fill="#5a2a6e" stroke="none" stroke-width="0"/>
<line x1="163.90" y1="453.00" x2="195.90" y2="453.00" stroke="#111" stroke-width="2.0"/>
<circle cx="179.90" cy="418.90" r="1.9" fill="#5a2a6e"/>
<line x1="223.70" y1="401.60" x2="223.70" y2="468.00" stroke="#3e2a4a" stroke-width="1.2"/>
<rect x="207.70" y="432.50" width="32.00" height="21.60" fill="#5a2a6e" stroke="none" stroke-width="0"/>
<line x1="207.70" y1="449.20" x2="239.70" y2="449.20" stroke="#111" stroke-width="2.0"/>
<circle cx="223.70" cy="398.70" r="1.9" fill="#5a2a6e"/>
<text x="223.70" y="399.60" font-size="11.2" text-anchor="middle" font-weight="normal" fill="#1a1a1a" stroke="#1a1a1a" stroke-width="0.2" letter-spacing="0.5">**</text>
<polygon points="62.60,489.25 245.60,489.25 254.60,500.07 245.60,510.90 62.60,510.90" fill="#c4c4c4"/>
<text x="93.60" y="496.40" font-size="6.6" text-anchor="middle" font-weight="normal" fill="#222" stroke="#222" stroke-width="0.2" textLength="14.83" lengthAdjust="spacingAndGlyphs">BSLN</text>
<text x="93.60" y="502.90" font-size="6.6" text-anchor="middle" font-weight="normal" fill="#222" stroke="#222" stroke-width="0.2" textLength="7.89" lengthAdjust="spacingAndGlyphs">0.0</text>
<text x="93.60" y="509.20" font-size="6.6" text-anchor="middle" font-weight="normal" fill="#222" stroke="#222" stroke-width="0.2" textLength="6.31" lengthAdjust="spacingAndGlyphs">33</text>
<text x="136.70" y="496.40" font-size="6.6" text-anchor="middle" font-weight="normal" fill="#222" stroke="#222" stroke-width="0.2" textLength="18.3" lengthAdjust="spacingAndGlyphs">ΔC1D8</text>
<text x="136.70" y="502.90" font-size="6.6" text-anchor="middle" font-weight="normal" fill="#222" stroke="#222" stroke-width="0.2" textLength="7.89" lengthAdjust="spacingAndGlyphs">6.7</text>
<text x="136.70" y="509.20" font-size="6.6" text-anchor="middle" font-weight="normal" fill="#222" stroke="#222" stroke-width="0.2" textLength="6.31" lengthAdjust="spacingAndGlyphs">29</text>
<text x="179.80" y="496.40" font-size="6.6" text-anchor="middle" font-weight="normal" fill="#222" stroke="#222" stroke-width="0.2" textLength="21.46" lengthAdjust="spacingAndGlyphs">ΔC1D15</text>
<text x="179.80" y="502.90" font-size="6.6" text-anchor="middle" font-weight="normal" fill="#222" stroke="#222" stroke-width="0.2" textLength="11.05" lengthAdjust="spacingAndGlyphs">23.9</text>
<text x="179.80" y="509.20" font-size="6.6" text-anchor="middle" font-weight="normal" fill="#222" stroke="#222" stroke-width="0.2" textLength="6.31" lengthAdjust="spacingAndGlyphs">24</text>
<text x="222.90" y="496.40" font-size="6.6" text-anchor="middle" font-weight="normal" fill="#222" stroke="#222" stroke-width="0.2" textLength="18.3" lengthAdjust="spacingAndGlyphs">ΔC2D1</text>
<text x="222.90" y="502.90" font-size="6.6" text-anchor="middle" font-weight="normal" fill="#222" stroke="#222" stroke-width="0.2" textLength="11.05" lengthAdjust="spacingAndGlyphs">35.3</text>
<text x="222.90" y="509.20" font-size="6.6" text-anchor="middle" font-weight="normal" fill="#222" stroke="#222" stroke-width="0.2" textLength="6.31" lengthAdjust="spacingAndGlyphs">25</text>
<text x="58.60" y="502.80" font-size="6.6" text-anchor="end" font-weight="normal" fill="#222" stroke="#222" stroke-width="0.2">Median</text>
<text x="58.60" y="509.10" font-size="6.6" text-anchor="end" font-weight="normal" fill="#222" stroke="#222" stroke-width="0.2">Count</text>
<text x="412.50" y="369.90" font-size="8.2" text-anchor="middle" font-weight="bold" fill="#111" textLength="159.60000000000002" lengthAdjust="spacingAndGlyphs">Percent Change in Plasmablast Cell Counts</text>
<text transform="translate(274.30,431.15) rotate(-90)" x="0" y="0" font-size="10.2" text-anchor="middle" font-weight="normal" fill="#1a1a1a" stroke="#1a1a1a" stroke-width="0.2" textLength="69.30000000000001" lengthAdjust="spacingAndGlyphs">Percent change in</text>
<text transform="translate(287.60,431.55) rotate(-90)" x="0" y="0" font-size="10.2" text-anchor="middle" font-weight="normal" fill="#1a1a1a" stroke="#1a1a1a" stroke-width="0.2" textLength="88.89999999999998" lengthAdjust="spacingAndGlyphs">plasmablast cell counts</text>
<line x1="318.00" y1="378.40" x2="318.00" y2="486.70" stroke="#000" stroke-width="2.0"/>
<line x1="317.00" y1="485.80" x2="510.00" y2="485.80" stroke="#000" stroke-width="2.4"/>
<line x1="313.50" y1="383.10" x2="318.00" y2="383.10" stroke="#000" stroke-width="1.4"/>
<text x="309.60" y="386.00" font-size="8.2" text-anchor="end" font-weight="normal" fill="#1a1a1a" stroke="#1a1a1a" stroke-width="0.2">1100</text>
<line x1="313.50" y1="399.25" x2="318.00" y2="399.25" stroke="#000" stroke-width="1.4"/>
<text x="309.60" y="402.15" font-size="8.2" text-anchor="end" font-weight="normal" fill="#1a1a1a" stroke="#1a1a1a" stroke-width="0.2">900</text>
<line x1="313.50" y1="415.40" x2="318.00" y2="415.40" stroke="#000" stroke-width="1.4"/>
<text x="309.60" y="418.30" font-size="8.2" text-anchor="end" font-weight="normal" fill="#1a1a1a" stroke="#1a1a1a" stroke-width="0.2">700</text>
<line x1="313.50" y1="431.55" x2="318.00" y2="431.55" stroke="#000" stroke-width="1.4"/>
<text x="309.60" y="434.45" font-size="8.2" text-anchor="end" font-weight="normal" fill="#1a1a1a" stroke="#1a1a1a" stroke-width="0.2">500</text>
<line x1="313.50" y1="447.70" x2="318.00" y2="447.70" stroke="#000" stroke-width="1.4"/>
<text x="309.60" y="450.60" font-size="8.2" text-anchor="end" font-weight="normal" fill="#1a1a1a" stroke="#1a1a1a" stroke-width="0.2">300</text>
<line x1="313.50" y1="463.85" x2="318.00" y2="463.85" stroke="#000" stroke-width="1.4"/>
<text x="309.60" y="466.75" font-size="8.2" text-anchor="end" font-weight="normal" fill="#1a1a1a" stroke="#1a1a1a" stroke-width="0.2">100</text>
<line x1="313.50" y1="480.00" x2="318.00" y2="480.00" stroke="#000" stroke-width="1.4"/>
<text x="309.60" y="482.90" font-size="8.2" text-anchor="end" font-weight="normal" fill="#1a1a1a" stroke="#1a1a1a" stroke-width="0.2">-100</text>
<line x1="318.00" y1="471.80" x2="510.00" y2="471.80" stroke="#c01c30" stroke-width="1.5"/>
<line x1="332.50" y1="471.80" x2="365.50" y2="471.80" stroke="#111" stroke-width="1.8"/>
<line x1="392.30" y1="471.00" x2="392.30" y2="476.40" stroke="#d0a020" stroke-width="1.2"/>
<rect x="376.30" y="476.40" width="32.00" height="3.60" fill="#e8bc18" stroke="none" stroke-width="0"/>
<circle cx="392.30" cy="464.20" r="1.9" fill="#e8bc18"/>
<text x="392.30" y="464.90" font-size="11.2" text-anchor="middle" font-weight="normal" fill="#1a1a1a" stroke="#1a1a1a" stroke-width="0.2" letter-spacing="0.5">****</text>
<line x1="435.90" y1="397.70" x2="435.90" y2="477.70" stroke="#d0a020" stroke-width="1.2"/>
<rect x="419.90" y="433.30" width="32.00" height="38.50" fill="#e8bc18" stroke="none" stroke-width="0"/>
<line x1="419.90" y1="463.70" x2="451.90" y2="463.70" stroke="#111" stroke-width="2.0"/>
<text x="435.90" y="401.60" font-size="11.2" text-anchor="middle" font-weight="normal" fill="#1a1a1a" stroke="#1a1a1a" stroke-width="0.2" letter-spacing="0.5">**</text>
<line x1="479.10" y1="390.20" x2="479.10" y2="479.90" stroke="#d0a020" stroke-width="1.2"/>
<rect x="463.10" y="433.80" width="32.00" height="30.40" fill="#e8bc18" stroke="none" stroke-width="0"/>
<line x1="463.10" y1="451.30" x2="495.10" y2="451.30" stroke="#111" stroke-width="2.0"/>
<circle cx="479.10" cy="382.70" r="1.9" fill="#e8bc18"/>
<text x="479.10" y="384.10" font-size="11.2" text-anchor="middle" font-weight="normal" fill="#1a1a1a" stroke="#1a1a1a" stroke-width="0.2" letter-spacing="0.5">****</text>
<polygon points="318.00,489.25 501.00,489.25 510.00,500.07 501.00,510.90 318.00,510.90" fill="#c4c4c4"/>
<text x="349.00" y="496.40" font-size="6.6" text-anchor="middle" font-weight="normal" fill="#222" stroke="#222" stroke-width="0.2" textLength="14.83" lengthAdjust="spacingAndGlyphs">BSLN</text>
<text x="349.00" y="502.90" font-size="6.6" text-anchor="middle" font-weight="normal" fill="#222" stroke="#222" stroke-width="0.2" textLength="7.89" lengthAdjust="spacingAndGlyphs">0.0</text>
<text x="349.00" y="509.20" font-size="6.6" text-anchor="middle" font-weight="normal" fill="#222" stroke="#222" stroke-width="0.2" textLength="6.31" lengthAdjust="spacingAndGlyphs">45</text>
<text x="392.10" y="496.40" font-size="6.6" text-anchor="middle" font-weight="normal" fill="#222" stroke="#222" stroke-width="0.2" textLength="18.3" lengthAdjust="spacingAndGlyphs">ΔC1D8</text>
<text x="392.10" y="502.90" font-size="6.6" text-anchor="middle" font-weight="normal" fill="#222" stroke="#222" stroke-width="0.2" textLength="16.09" lengthAdjust="spacingAndGlyphs">-100.0</text>
<text x="392.10" y="509.20" font-size="6.6" text-anchor="middle" font-weight="normal" fill="#222" stroke="#222" stroke-width="0.2" textLength="6.31" lengthAdjust="spacingAndGlyphs">38</text>
<text x="435.20" y="496.40" font-size="6.6" text-anchor="middle" font-weight="normal" fill="#222" stroke="#222" stroke-width="0.2" textLength="21.46" lengthAdjust="spacingAndGlyphs">ΔC1D15</text>
<text x="435.20" y="502.90" font-size="6.6" text-anchor="middle" font-weight="normal" fill="#222" stroke="#222" stroke-width="0.2" textLength="14.2" lengthAdjust="spacingAndGlyphs">100.0</text>
<text x="435.20" y="509.20" font-size="6.6" text-anchor="middle" font-weight="normal" fill="#222" stroke="#222" stroke-width="0.2" textLength="6.31" lengthAdjust="spacingAndGlyphs">27</text>
<text x="478.30" y="496.40" font-size="6.6" text-anchor="middle" font-weight="normal" fill="#222" stroke="#222" stroke-width="0.2" textLength="18.3" lengthAdjust="spacingAndGlyphs">ΔC2D1</text>
<text x="478.30" y="502.90" font-size="6.6" text-anchor="middle" font-weight="normal" fill="#222" stroke="#222" stroke-width="0.2" textLength="14.2" lengthAdjust="spacingAndGlyphs">250.0</text>
<text x="478.30" y="509.20" font-size="6.6" text-anchor="middle" font-weight="normal" fill="#222" stroke="#222" stroke-width="0.2" textLength="6.31" lengthAdjust="spacingAndGlyphs">34</text>
<text x="314.00" y="502.80" font-size="6.6" text-anchor="end" font-weight="normal" fill="#222" stroke="#222" stroke-width="0.2">Median</text>
<text x="314.00" y="509.10" font-size="6.6" text-anchor="end" font-weight="normal" fill="#222" stroke="#222" stroke-width="0.2">Count</text>
<text x="159.05" y="536.90" font-size="8.2" text-anchor="middle" font-weight="bold" fill="#111" textLength="184.29999999999998" lengthAdjust="spacingAndGlyphs">Percent Change in Activated CD4+ T Cell Counts</text>
<text transform="translate(18.90,601.15) rotate(-90)" x="0" y="0" font-size="10.2" text-anchor="middle" font-weight="normal" fill="#1a1a1a" stroke="#1a1a1a" stroke-width="0.2" textLength="69.29999999999995" lengthAdjust="spacingAndGlyphs">Percent change in</text>
<text transform="translate(32.20,601.50) rotate(-90)" x="0" y="0" font-size="10.2" text-anchor="middle" font-weight="normal" fill="#1a1a1a" stroke="#1a1a1a" stroke-width="0.2" textLength="109.0" lengthAdjust="spacingAndGlyphs">activated CD4+ T cell counts</text>
<line x1="62.60" y1="550.40" x2="62.60" y2="654.30" stroke="#000" stroke-width="2.0"/>
<line x1="61.60" y1="653.40" x2="254.60" y2="653.40" stroke="#000" stroke-width="2.4"/>
<line x1="58.10" y1="566.30" x2="62.60" y2="566.30" stroke="#000" stroke-width="1.4"/>
<text x="54.20" y="569.20" font-size="8.2" text-anchor="end" font-weight="normal" fill="#1a1a1a" stroke="#1a1a1a" stroke-width="0.2">400</text>
<line x1="58.10" y1="583.18" x2="62.60" y2="583.18" stroke="#000" stroke-width="1.4"/>
<text x="54.20" y="586.08" font-size="8.2" text-anchor="end" font-weight="normal" fill="#1a1a1a" stroke="#1a1a1a" stroke-width="0.2">300</text>
<line x1="58.10" y1="600.06" x2="62.60" y2="600.06" stroke="#000" stroke-width="1.4"/>
<text x="54.20" y="602.96" font-size="8.2" text-anchor="end" font-weight="normal" fill="#1a1a1a" stroke="#1a1a1a" stroke-width="0.2">200</text>
<line x1="58.10" y1="616.94" x2="62.60" y2="616.94" stroke="#000" stroke-width="1.4"/>
<text x="54.20" y="619.84" font-size="8.2" text-anchor="end" font-weight="normal" fill="#1a1a1a" stroke="#1a1a1a" stroke-width="0.2">100</text>
<line x1="58.10" y1="633.82" x2="62.60" y2="633.82" stroke="#000" stroke-width="1.4"/>
<text x="54.20" y="636.72" font-size="8.2" text-anchor="end" font-weight="normal" fill="#1a1a1a" stroke="#1a1a1a" stroke-width="0.2">0</text>
<line x1="58.10" y1="650.70" x2="62.60" y2="650.70" stroke="#000" stroke-width="1.4"/>
<text x="54.20" y="653.60" font-size="8.2" text-anchor="end" font-weight="normal" fill="#1a1a1a" stroke="#1a1a1a" stroke-width="0.2">-100</text>
<line x1="62.60" y1="633.80" x2="254.60" y2="633.80" stroke="#b01c38" stroke-width="1.5"/>
<line x1="77.10" y1="633.80" x2="110.10" y2="633.80" stroke="#111" stroke-width="1.8"/>
<line x1="136.10" y1="630.90" x2="136.10" y2="646.10" stroke="#4a8a2a" stroke-width="1.2"/>
<rect x="120.10" y="635.20" width="32.00" height="3.70" fill="#6aaa3e" stroke="none" stroke-width="0"/>
<line x1="120.10" y1="637.20" x2="152.10" y2="637.20" stroke="#111" stroke-width="2.0"/>
<circle cx="136.10" cy="620.80" r="1.9" fill="#6aaa3e"/>
<circle cx="136.10" cy="626.00" r="1.9" fill="#6aaa3e"/>
<text x="136.10" y="620.40" font-size="11.2" text-anchor="middle" font-weight="normal" fill="#1a1a1a" stroke="#1a1a1a" stroke-width="0.2" letter-spacing="0.5">*</text>
<line x1="179.40" y1="586.10" x2="179.40" y2="643.30" stroke="#4a8a2a" stroke-width="1.2"/>
<rect x="163.40" y="616.40" width="32.00" height="20.20" fill="#6aaa3e" stroke="none" stroke-width="0"/>
<line x1="163.40" y1="627.40" x2="195.40" y2="627.40" stroke="#111" stroke-width="2.0"/>
<circle cx="179.40" cy="560.20" r="1.9" fill="#6aaa3e"/>
<circle cx="179.40" cy="575.20" r="1.9" fill="#6aaa3e"/>
<text x="179.40" y="559.60" font-size="11.2" text-anchor="middle" font-weight="normal" fill="#1a1a1a" stroke="#1a1a1a" stroke-width="0.2" letter-spacing="0.5">*</text>
<line x1="222.60" y1="594.20" x2="222.60" y2="642.40" stroke="#4a8a2a" stroke-width="1.2"/>
<rect x="206.60" y="614.10" width="32.00" height="19.10" fill="#6aaa3e" stroke="none" stroke-width="0"/>
<line x1="206.60" y1="622.20" x2="238.60" y2="622.20" stroke="#111" stroke-width="2.0"/>
<circle cx="222.60" cy="550.70" r="1.9" fill="#6aaa3e"/>
<circle cx="222.60" cy="556.40" r="1.9" fill="#6aaa3e"/>
<text x="222.60" y="549.50" font-size="11.2" text-anchor="middle" font-weight="normal" fill="#1a1a1a" stroke="#1a1a1a" stroke-width="0.2" letter-spacing="0.5">**</text>
<polygon points="62.60,656.75 245.60,656.75 254.60,667.58 245.60,678.40 62.60,678.40" fill="#c4c4c4"/>
<text x="93.60" y="664.15" font-size="6.6" text-anchor="middle" font-weight="normal" fill="#222" stroke="#222" stroke-width="0.2" textLength="14.83" lengthAdjust="spacingAndGlyphs">BSLN</text>
<text x="93.60" y="670.40" font-size="6.6" text-anchor="middle" font-weight="normal" fill="#222" stroke="#222" stroke-width="0.2" textLength="7.89" lengthAdjust="spacingAndGlyphs">0.0</text>
<text x="93.60" y="677.15" font-size="6.6" text-anchor="middle" font-weight="normal" fill="#222" stroke="#222" stroke-width="0.2" textLength="6.31" lengthAdjust="spacingAndGlyphs">40</text>
<text x="136.70" y="664.15" font-size="6.6" text-anchor="middle" font-weight="normal" fill="#222" stroke="#222" stroke-width="0.2" textLength="18.3" lengthAdjust="spacingAndGlyphs">ΔC1D8</text>
<text x="136.70" y="670.40" font-size="6.6" text-anchor="middle" font-weight="normal" fill="#222" stroke="#222" stroke-width="0.2" textLength="12.94" lengthAdjust="spacingAndGlyphs">-19.7</text>
<text x="136.70" y="677.15" font-size="6.6" text-anchor="middle" font-weight="normal" fill="#222" stroke="#222" stroke-width="0.2" textLength="6.31" lengthAdjust="spacingAndGlyphs">32</text>
<text x="179.80" y="664.15" font-size="6.6" text-anchor="middle" font-weight="normal" fill="#222" stroke="#222" stroke-width="0.2" textLength="21.46" lengthAdjust="spacingAndGlyphs">ΔC1D15</text>
<text x="179.80" y="670.40" font-size="6.6" text-anchor="middle" font-weight="normal" fill="#222" stroke="#222" stroke-width="0.2" textLength="11.05" lengthAdjust="spacingAndGlyphs">36.2</text>
<text x="179.80" y="677.15" font-size="6.6" text-anchor="middle" font-weight="normal" fill="#222" stroke="#222" stroke-width="0.2" textLength="6.31" lengthAdjust="spacingAndGlyphs">21</text>
<text x="222.90" y="664.15" font-size="6.6" text-anchor="middle" font-weight="normal" fill="#222" stroke="#222" stroke-width="0.2" textLength="18.3" lengthAdjust="spacingAndGlyphs">ΔC2D1</text>
<text x="222.90" y="670.40" font-size="6.6" text-anchor="middle" font-weight="normal" fill="#222" stroke="#222" stroke-width="0.2" textLength="11.05" lengthAdjust="spacingAndGlyphs">65.8</text>
<text x="222.90" y="677.15" font-size="6.6" text-anchor="middle" font-weight="normal" fill="#222" stroke="#222" stroke-width="0.2" textLength="6.31" lengthAdjust="spacingAndGlyphs">26</text>
<text x="58.60" y="670.30" font-size="6.6" text-anchor="end" font-weight="normal" fill="#222" stroke="#222" stroke-width="0.2">Median</text>
<text x="58.60" y="677.05" font-size="6.6" text-anchor="end" font-weight="normal" fill="#222" stroke="#222" stroke-width="0.2">Count</text>
<text x="412.30" y="536.90" font-size="8.2" text-anchor="middle" font-weight="bold" fill="#111" textLength="177.0" lengthAdjust="spacingAndGlyphs">Percent Change in Dividing CD4+ T Cell Counts</text>
<text transform="translate(274.30,601.15) rotate(-90)" x="0" y="0" font-size="10.2" text-anchor="middle" font-weight="normal" fill="#1a1a1a" stroke="#1a1a1a" stroke-width="0.2" textLength="69.29999999999995" lengthAdjust="spacingAndGlyphs">Percent change in</text>
<text transform="translate(287.60,601.55) rotate(-90)" x="0" y="0" font-size="10.2" text-anchor="middle" font-weight="normal" fill="#1a1a1a" stroke="#1a1a1a" stroke-width="0.2" textLength="106.30000000000007" lengthAdjust="spacingAndGlyphs">Dividing CD4+ T cell counts</text>
<line x1="318.00" y1="550.40" x2="318.00" y2="654.30" stroke="#000" stroke-width="2.0"/>
<line x1="317.00" y1="653.40" x2="510.00" y2="653.40" stroke="#000" stroke-width="2.4"/>
<line x1="313.50" y1="566.50" x2="318.00" y2="566.50" stroke="#000" stroke-width="1.4"/>
<text x="309.60" y="569.40" font-size="8.2" text-anchor="end" font-weight="normal" fill="#1a1a1a" stroke="#1a1a1a" stroke-width="0.2">400</text>
<line x1="313.50" y1="583.34" x2="318.00" y2="583.34" stroke="#000" stroke-width="1.4"/>
<text x="309.60" y="586.24" font-size="8.2" text-anchor="end" font-weight="normal" fill="#1a1a1a" stroke="#1a1a1a" stroke-width="0.2">300</text>
<line x1="313.50" y1="600.18" x2="318.00" y2="600.18" stroke="#000" stroke-width="1.4"/>
<text x="309.60" y="603.08" font-size="8.2" text-anchor="end" font-weight="normal" fill="#1a1a1a" stroke="#1a1a1a" stroke-width="0.2">200</text>
<line x1="313.50" y1="617.02" x2="318.00" y2="617.02" stroke="#000" stroke-width="1.4"/>
<text x="309.60" y="619.92" font-size="8.2" text-anchor="end" font-weight="normal" fill="#1a1a1a" stroke="#1a1a1a" stroke-width="0.2">100</text>
<line x1="313.50" y1="633.86" x2="318.00" y2="633.86" stroke="#000" stroke-width="1.4"/>
<text x="309.60" y="636.76" font-size="8.2" text-anchor="end" font-weight="normal" fill="#1a1a1a" stroke="#1a1a1a" stroke-width="0.2">0</text>
<line x1="313.50" y1="650.70" x2="318.00" y2="650.70" stroke="#000" stroke-width="1.4"/>
<text x="309.60" y="653.60" font-size="8.2" text-anchor="end" font-weight="normal" fill="#1a1a1a" stroke="#1a1a1a" stroke-width="0.2">-100</text>
<line x1="318.00" y1="634.20" x2="510.00" y2="634.20" stroke="#9a1a44" stroke-width="1.5"/>
<line x1="332.50" y1="634.20" x2="365.50" y2="634.20" stroke="#111" stroke-width="1.8"/>
<line x1="391.50" y1="634.80" x2="391.50" y2="647.20" stroke="#a00060" stroke-width="1.2"/>
<rect x="375.50" y="639.60" width="32.00" height="4.10" fill="#c4007a" stroke="none" stroke-width="0"/>
<line x1="375.50" y1="641.50" x2="407.50" y2="641.50" stroke="#111" stroke-width="2.0"/>
<circle cx="391.50" cy="603.30" r="1.9" fill="#c4007a"/>
<circle cx="391.50" cy="624.00" r="1.9" fill="#c4007a"/>
<circle cx="391.50" cy="625.60" r="1.9" fill="#c4007a"/>
<text x="391.50" y="597.20" font-size="11.2" text-anchor="middle" font-weight="normal" fill="#1a1a1a" stroke="#1a1a1a" stroke-width="0.2" letter-spacing="0.5">***</text>
<line x1="434.50" y1="552.90" x2="434.50" y2="634.80" stroke="#a00060" stroke-width="1.2"/>
<rect x="418.50" y="595.20" width="32.00" height="33.10" fill="#c4007a" stroke="none" stroke-width="0"/>
<line x1="418.50" y1="622.90" x2="450.50" y2="622.90" stroke="#111" stroke-width="2.0"/>
<text x="434.50" y="555.40" font-size="11.2" text-anchor="middle" font-weight="normal" fill="#1a1a1a" stroke="#1a1a1a" stroke-width="0.2" letter-spacing="0.5">***</text>
<line x1="477.20" y1="587.10" x2="477.20" y2="645.00" stroke="#a00060" stroke-width="1.2"/>
<rect x="461.20" y="615.90" width="32.00" height="20.20" fill="#c4007a" stroke="none" stroke-width="0"/>
<line x1="461.20" y1="632.10" x2="493.20" y2="632.10" stroke="#111" stroke-width="2.0"/>
<circle cx="477.20" cy="563.70" r="1.9" fill="#c4007a"/>
<polygon points="318.00,656.75 501.00,656.75 510.00,667.58 501.00,678.40 318.00,678.40" fill="#c4c4c4"/>
<text x="349.00" y="664.15" font-size="6.6" text-anchor="middle" font-weight="normal" fill="#222" stroke="#222" stroke-width="0.2" textLength="14.83" lengthAdjust="spacingAndGlyphs">BSLN</text>
<text x="349.00" y="670.40" font-size="6.6" text-anchor="middle" font-weight="normal" fill="#222" stroke="#222" stroke-width="0.2" textLength="7.89" lengthAdjust="spacingAndGlyphs">0.0</text>
<text x="349.00" y="677.15" font-size="6.6" text-anchor="middle" font-weight="normal" fill="#222" stroke="#222" stroke-width="0.2" textLength="6.31" lengthAdjust="spacingAndGlyphs">40</text>
<text x="392.10" y="664.15" font-size="6.6" text-anchor="middle" font-weight="normal" fill="#222" stroke="#222" stroke-width="0.2" textLength="18.3" lengthAdjust="spacingAndGlyphs">ΔC1D8</text>
<text x="392.10" y="670.40" font-size="6.6" text-anchor="middle" font-weight="normal" fill="#222" stroke="#222" stroke-width="0.2" textLength="12.94" lengthAdjust="spacingAndGlyphs">-41.2</text>
<text x="392.10" y="677.15" font-size="6.6" text-anchor="middle" font-weight="normal" fill="#222" stroke="#222" stroke-width="0.2" textLength="6.31" lengthAdjust="spacingAndGlyphs">33</text>
<text x="435.20" y="664.15" font-size="6.6" text-anchor="middle" font-weight="normal" fill="#222" stroke="#222" stroke-width="0.2" textLength="21.46" lengthAdjust="spacingAndGlyphs">ΔC1D15</text>
<text x="435.20" y="670.40" font-size="6.6" text-anchor="middle" font-weight="normal" fill="#222" stroke="#222" stroke-width="0.2" textLength="11.05" lengthAdjust="spacingAndGlyphs">66.7</text>
<text x="435.20" y="677.15" font-size="6.6" text-anchor="middle" font-weight="normal" fill="#222" stroke="#222" stroke-width="0.2" textLength="6.31" lengthAdjust="spacingAndGlyphs">23</text>
<text x="478.30" y="664.15" font-size="6.6" text-anchor="middle" font-weight="normal" fill="#222" stroke="#222" stroke-width="0.2" textLength="18.3" lengthAdjust="spacingAndGlyphs">ΔC2D1</text>
<text x="478.30" y="670.40" font-size="6.6" text-anchor="middle" font-weight="normal" fill="#222" stroke="#222" stroke-width="0.2" textLength="11.05" lengthAdjust="spacingAndGlyphs">12.5</text>
<text x="478.30" y="677.15" font-size="6.6" text-anchor="middle" font-weight="normal" fill="#222" stroke="#222" stroke-width="0.2" textLength="6.31" lengthAdjust="spacingAndGlyphs">27</text>
<text x="314.00" y="670.30" font-size="6.6" text-anchor="end" font-weight="normal" fill="#222" stroke="#222" stroke-width="0.2">Median</text>
<text x="314.00" y="677.05" font-size="6.6" text-anchor="end" font-weight="normal" fill="#222" stroke="#222" stroke-width="0.2">Count</text>
<text x="57.30" y="692.60" font-size="8.0" text-anchor="start" font-weight="normal" fill="#1a1a1a" stroke="#1a1a1a" stroke-width="0.2" textLength="219.7" lengthAdjust="spacingAndGlyphs">*p ≤0.05, **p ≤0.01, *** p ≤0.001, **** p ≤0.0001; Paired T test</text>
<text x="10.80" y="725.60" font-size="15.0" text-anchor="start" font-weight="bold" fill="#111" textLength="10.6" lengthAdjust="spacingAndGlyphs">B</text>
<polyline points="97.7,723.50 97.7,719.90 333.40,719.90 333.40,723.50" fill="none" stroke="#111" stroke-width="1.5"/>
<text x="215.55" y="720.30" font-size="11.2" text-anchor="middle" font-weight="normal" fill="#1a1a1a" stroke="#1a1a1a" stroke-width="0.2" letter-spacing="0.5">*</text>
<polyline points="97.7,735.10 97.7,731.50 273.10,731.50 273.10,735.10" fill="none" stroke="#111" stroke-width="1.5"/>
<text x="185.40" y="732.80" font-size="11.2" text-anchor="middle" font-weight="normal" fill="#1a1a1a" stroke="#1a1a1a" stroke-width="0.2" letter-spacing="0.5">****</text>
<polyline points="97.7,746.00 97.7,742.40 215.00,742.40 215.00,746.00" fill="none" stroke="#111" stroke-width="1.5"/>
<text x="156.35" y="744.00" font-size="11.2" text-anchor="middle" font-weight="normal" fill="#1a1a1a" stroke="#1a1a1a" stroke-width="0.2" letter-spacing="0.5">****</text>
<polyline points="97.7,757.80 97.7,754.20 156.20,754.20 156.20,757.80" fill="none" stroke="#111" stroke-width="1.5"/>
<text x="126.95" y="755.50" font-size="11.2" text-anchor="middle" font-weight="normal" fill="#1a1a1a" stroke="#1a1a1a" stroke-width="0.2" letter-spacing="0.5">****</text>
<line x1="62.60" y1="761.00" x2="62.60" y2="978.50" stroke="#000" stroke-width="1.8"/>
<line x1="61.70" y1="977.70" x2="483.50" y2="977.70" stroke="#000" stroke-width="2.0"/>
<line x1="58.10" y1="765.00" x2="62.60" y2="765.00" stroke="#000" stroke-width="1.3"/>
<text x="54.40" y="768.00" font-size="8.6" text-anchor="end" font-weight="normal" fill="#1a1a1a" stroke="#1a1a1a" stroke-width="0.2">500</text>
<line x1="58.10" y1="805.60" x2="62.60" y2="805.60" stroke="#000" stroke-width="1.3"/>
<text x="54.40" y="808.60" font-size="8.6" text-anchor="end" font-weight="normal" fill="#1a1a1a" stroke="#1a1a1a" stroke-width="0.2">400</text>
<line x1="58.10" y1="846.20" x2="62.60" y2="846.20" stroke="#000" stroke-width="1.3"/>
<text x="54.40" y="849.20" font-size="8.6" text-anchor="end" font-weight="normal" fill="#1a1a1a" stroke="#1a1a1a" stroke-width="0.2">300</text>
<line x1="58.10" y1="886.80" x2="62.60" y2="886.80" stroke="#000" stroke-width="1.3"/>
<text x="54.40" y="889.80" font-size="8.6" text-anchor="end" font-weight="normal" fill="#1a1a1a" stroke="#1a1a1a" stroke-width="0.2">200</text>
<line x1="58.10" y1="927.40" x2="62.60" y2="927.40" stroke="#000" stroke-width="1.3"/>
<text x="54.40" y="930.40" font-size="8.6" text-anchor="end" font-weight="normal" fill="#1a1a1a" stroke="#1a1a1a" stroke-width="0.2">100</text>
<line x1="58.10" y1="968.00" x2="62.60" y2="968.00" stroke="#000" stroke-width="1.3"/>
<text x="54.40" y="971.00" font-size="8.6" text-anchor="end" font-weight="normal" fill="#1a1a1a" stroke="#1a1a1a" stroke-width="0.2">0</text>
<line x1="97.50" y1="977.50" x2="97.50" y2="982.30" stroke="#000" stroke-width="1.2"/>
<line x1="156.10" y1="977.50" x2="156.10" y2="982.30" stroke="#000" stroke-width="1.2"/>
<line x1="215.00" y1="977.50" x2="215.00" y2="982.30" stroke="#000" stroke-width="1.2"/>
<line x1="273.70" y1="977.50" x2="273.70" y2="982.30" stroke="#000" stroke-width="1.2"/>
<line x1="332.40" y1="977.50" x2="332.40" y2="982.30" stroke="#000" stroke-width="1.2"/>
<line x1="390.50" y1="977.50" x2="390.50" y2="982.30" stroke="#000" stroke-width="1.2"/>
<line x1="449.50" y1="977.50" x2="449.50" y2="982.30" stroke="#000" stroke-width="1.2"/>
<text transform="translate(20.20,870.20) rotate(-90)" x="0" y="0" font-size="10.2" text-anchor="middle" font-weight="normal" fill="#1a1a1a" stroke="#1a1a1a" stroke-width="0.2" textLength="110.4" lengthAdjust="spacingAndGlyphs">Number of expanded clones</text>
<text transform="translate(33.90,869.60) rotate(-90)" x="0" y="0" font-size="10.2" text-anchor="middle" font-weight="normal" fill="#1a1a1a" stroke="#1a1a1a" stroke-width="0.2" textLength="111.6" lengthAdjust="spacingAndGlyphs">per 100,000 rearrangements</text>
<rect x="75.30" y="963.00" width="45.00" height="4.70" fill="#f2d9a8" stroke="#d8921c" stroke-width="1.5"/>
<line x1="97.30" y1="932.00" x2="97.30" y2="963.00" stroke="#d8921c" stroke-width="1.5"/>
<line x1="75.30" y1="966.30" x2="120.30" y2="966.30" stroke="#111" stroke-width="2.0"/>
<circle cx="97.30" cy="917.20" r="3.25" fill="#d8921c"/>
<circle cx="97.30" cy="932.00" r="3.25" fill="#d8921c"/>
<circle cx="97.30" cy="934.20" r="3.25" fill="#d8921c"/>
<circle cx="97.30" cy="936.40" r="3.25" fill="#d8921c"/>
<circle cx="97.30" cy="938.60" r="3.25" fill="#d8921c"/>
<circle cx="97.30" cy="945.70" r="3.25" fill="#d8921c"/>
<circle cx="97.30" cy="947.90" r="3.25" fill="#d8921c"/>
<circle cx="97.30" cy="950.10" r="3.25" fill="#d8921c"/>
<circle cx="97.30" cy="956.60" r="3.25" fill="#d8921c"/>
<circle cx="97.30" cy="958.80" r="3.25" fill="#d8921c"/>
<circle cx="97.30" cy="961.00" r="3.25" fill="#d8921c"/>
<circle cx="97.30" cy="963.20" r="3.25" fill="#d8921c"/>
<circle cx="97.30" cy="965.40" r="3.25" fill="#d8921c"/>
<circle cx="97.30" cy="967.60" r="3.25" fill="#d8921c"/>
<rect x="134.20" y="923.70" width="44.50" height="34.80" fill="#fff" stroke="#d8921c" stroke-width="1.5"/>
<line x1="156.10" y1="876.50" x2="156.10" y2="923.70" stroke="#d8921c" stroke-width="1.5"/>
<line x1="134.20" y1="947.50" x2="178.70" y2="947.50" stroke="#111" stroke-width="2.0"/>
<circle cx="156.10" cy="770.80" r="3.25" fill="#d8921c"/>
<circle cx="156.10" cy="778.40" r="3.25" fill="#d8921c"/>
<circle cx="156.10" cy="781.20" r="3.25" fill="#d8921c"/>
<circle cx="156.10" cy="876.50" r="3.25" fill="#d8921c"/>
<circle cx="156.10" cy="894.00" r="3.25" fill="#d8921c"/>
<circle cx="156.10" cy="896.20" r="3.25" fill="#d8921c"/>
<circle cx="156.10" cy="898.40" r="3.25" fill="#d8921c"/>
<circle cx="156.10" cy="900.60" r="3.25" fill="#d8921c"/>
<circle cx="156.10" cy="902.80" r="3.25" fill="#d8921c"/>
<circle cx="156.10" cy="905.00" r="3.25" fill="#d8921c"/>
<circle cx="156.10" cy="907.20" r="3.25" fill="#d8921c"/>
<circle cx="156.10" cy="920.50" r="3.25" fill="#d8921c"/>
<circle cx="156.10" cy="922.70" r="3.25" fill="#d8921c"/>
<circle cx="156.10" cy="924.90" r="3.25" fill="#d8921c"/>
<circle cx="156.10" cy="927.10" r="3.25" fill="#d8921c"/>
<circle cx="156.10" cy="929.30" r="3.25" fill="#d8921c"/>
<circle cx="156.10" cy="931.50" r="3.25" fill="#d8921c"/>
<circle cx="156.10" cy="933.70" r="3.25" fill="#d8921c"/>
<circle cx="156.10" cy="944.00" r="3.25" fill="#d8921c"/>
<circle cx="156.10" cy="946.20" r="3.25" fill="#d8921c"/>
<circle cx="156.10" cy="948.40" r="3.25" fill="#d8921c"/>
<circle cx="156.10" cy="950.60" r="3.25" fill="#d8921c"/>
<circle cx="156.10" cy="952.80" r="3.25" fill="#d8921c"/>
<circle cx="156.10" cy="955.00" r="3.25" fill="#d8921c"/>
<circle cx="156.10" cy="957.20" r="3.25" fill="#d8921c"/>
<circle cx="156.10" cy="959.40" r="3.25" fill="#d8921c"/>
<circle cx="156.10" cy="961.60" r="3.25" fill="#d8921c"/>
<circle cx="156.10" cy="963.80" r="3.25" fill="#d8921c"/>
<circle cx="156.10" cy="966.00" r="3.25" fill="#d8921c"/>
<circle cx="156.10" cy="968.20" r="3.25" fill="#d8921c"/>
<rect x="192.60" y="932.90" width="45.40" height="25.60" fill="#fff" stroke="#d8921c" stroke-width="1.5"/>
<line x1="215.00" y1="896.50" x2="215.00" y2="932.90" stroke="#d8921c" stroke-width="1.5"/>
<line x1="192.60" y1="947.50" x2="238.00" y2="947.50" stroke="#111" stroke-width="2.0"/>
<circle cx="215.00" cy="800.00" r="3.25" fill="#d8921c"/>
<circle cx="215.00" cy="840.80" r="3.25" fill="#d8921c"/>
<circle cx="215.00" cy="859.00" r="3.25" fill="#d8921c"/>
<circle cx="215.00" cy="864.00" r="3.25" fill="#d8921c"/>
<circle cx="215.00" cy="869.60" r="3.25" fill="#d8921c"/>
<circle cx="215.00" cy="879.00" r="3.25" fill="#d8921c"/>
<circle cx="215.00" cy="896.50" r="3.25" fill="#d8921c"/>
<circle cx="215.00" cy="898.70" r="3.25" fill="#d8921c"/>
<circle cx="215.00" cy="900.90" r="3.25" fill="#d8921c"/>
<circle cx="215.00" cy="903.10" r="3.25" fill="#d8921c"/>
<circle cx="215.00" cy="905.30" r="3.25" fill="#d8921c"/>
<circle cx="215.00" cy="907.50" r="3.25" fill="#d8921c"/>
<circle cx="215.00" cy="909.70" r="3.25" fill="#d8921c"/>
<circle cx="215.00" cy="920.30" r="3.25" fill="#d8921c"/>
<circle cx="215.00" cy="928.00" r="3.25" fill="#d8921c"/>
<circle cx="215.00" cy="930.20" r="3.25" fill="#d8921c"/>
<circle cx="215.00" cy="932.40" r="3.25" fill="#d8921c"/>
<circle cx="215.00" cy="934.60" r="3.25" fill="#d8921c"/>
<circle cx="215.00" cy="936.80" r="3.25" fill="#d8921c"/>
<circle cx="215.00" cy="939.00" r="3.25" fill="#d8921c"/>
<circle cx="215.00" cy="941.20" r="3.25" fill="#d8921c"/>
<circle cx="215.00" cy="943.40" r="3.25" fill="#d8921c"/>
<circle cx="215.00" cy="945.60" r="3.25" fill="#d8921c"/>
<circle cx="215.00" cy="947.80" r="3.25" fill="#d8921c"/>
<circle cx="215.00" cy="950.00" r="3.25" fill="#d8921c"/>
<circle cx="215.00" cy="952.20" r="3.25" fill="#d8921c"/>
<circle cx="215.00" cy="954.40" r="3.25" fill="#d8921c"/>
<circle cx="215.00" cy="956.60" r="3.25" fill="#d8921c"/>
<circle cx="215.00" cy="958.80" r="3.25" fill="#d8921c"/>
<circle cx="215.00" cy="961.00" r="3.25" fill="#d8921c"/>
<circle cx="215.00" cy="963.20" r="3.25" fill="#d8921c"/>
<circle cx="215.00" cy="965.40" r="3.25" fill="#d8921c"/>
<circle cx="215.00" cy="967.60" r="3.25" fill="#d8921c"/>
<rect x="250.60" y="948.00" width="46.10" height="14.60" fill="#fff" stroke="#d8921c" stroke-width="1.5"/>
<line x1="273.70" y1="912.00" x2="273.70" y2="948.00" stroke="#d8921c" stroke-width="1.5"/>
<line x1="250.60" y1="955.40" x2="296.70" y2="955.40" stroke="#111" stroke-width="2.0"/>
<circle cx="273.70" cy="844.80" r="3.25" fill="#d8921c"/>
<circle cx="273.70" cy="854.40" r="3.25" fill="#d8921c"/>
<circle cx="273.70" cy="884.00" r="3.25" fill="#d8921c"/>
<circle cx="273.70" cy="892.00" r="3.25" fill="#d8921c"/>
<circle cx="273.70" cy="912.00" r="3.25" fill="#d8921c"/>
<circle cx="273.70" cy="914.20" r="3.25" fill="#d8921c"/>
<circle cx="273.70" cy="916.40" r="3.25" fill="#d8921c"/>
<circle cx="273.70" cy="918.60" r="3.25" fill="#d8921c"/>
<circle cx="273.70" cy="929.00" r="3.25" fill="#d8921c"/>
<circle cx="273.70" cy="936.00" r="3.25" fill="#d8921c"/>
<circle cx="273.70" cy="946.00" r="3.25" fill="#d8921c"/>
<circle cx="273.70" cy="948.20" r="3.25" fill="#d8921c"/>
<circle cx="273.70" cy="950.40" r="3.25" fill="#d8921c"/>
<circle cx="273.70" cy="952.60" r="3.25" fill="#d8921c"/>
<circle cx="273.70" cy="954.80" r="3.25" fill="#d8921c"/>
<circle cx="273.70" cy="957.00" r="3.25" fill="#d8921c"/>
<circle cx="273.70" cy="959.20" r="3.25" fill="#d8921c"/>
<circle cx="273.70" cy="961.40" r="3.25" fill="#d8921c"/>
<circle cx="273.70" cy="963.60" r="3.25" fill="#d8921c"/>
<circle cx="273.70" cy="965.80" r="3.25" fill="#d8921c"/>
<circle cx="273.70" cy="968.00" r="3.25" fill="#d8921c"/>
<rect x="310.70" y="950.60" width="43.70" height="9.60" fill="#fff" stroke="#d8921c" stroke-width="1.5"/>
<line x1="332.40" y1="948.00" x2="332.40" y2="950.60" stroke="#d8921c" stroke-width="1.5"/>
<line x1="310.70" y1="957.80" x2="354.40" y2="957.80" stroke="#111" stroke-width="2.0"/>
<circle cx="332.40" cy="920.80" r="3.25" fill="#d8921c"/>
<circle cx="332.40" cy="948.00" r="3.25" fill="#d8921c"/>
<circle cx="332.40" cy="950.20" r="3.25" fill="#d8921c"/>
<circle cx="332.40" cy="952.40" r="3.25" fill="#d8921c"/>
<circle cx="332.40" cy="954.60" r="3.25" fill="#d8921c"/>
<circle cx="332.40" cy="956.80" r="3.25" fill="#d8921c"/>
<circle cx="332.40" cy="959.00" r="3.25" fill="#d8921c"/>
<circle cx="332.40" cy="961.20" r="3.25" fill="#d8921c"/>
<circle cx="332.40" cy="963.40" r="3.25" fill="#d8921c"/>
<circle cx="332.40" cy="965.60" r="3.25" fill="#d8921c"/>
<rect x="368.80" y="957.80" width="44.20" height="9.60" fill="#fff" stroke="#d8921c" stroke-width="1.5"/>
<line x1="390.50" y1="954.40" x2="390.50" y2="957.80" stroke="#d8921c" stroke-width="1.5"/>
<line x1="368.80" y1="962.60" x2="413.00" y2="962.60" stroke="#111" stroke-width="2.0"/>
<circle cx="390.50" cy="954.40" r="3.25" fill="#d8921c"/>
<circle cx="390.50" cy="956.60" r="3.25" fill="#d8921c"/>
<circle cx="390.50" cy="958.80" r="3.25" fill="#d8921c"/>
<circle cx="390.50" cy="961.00" r="3.25" fill="#d8921c"/>
<circle cx="390.50" cy="963.20" r="3.25" fill="#d8921c"/>
<circle cx="390.50" cy="965.40" r="3.25" fill="#d8921c"/>
<circle cx="390.50" cy="967.60" r="3.25" fill="#d8921c"/>
<rect x="427.50" y="935.20" width="44.70" height="27.40" fill="#fff" stroke="#d8921c" stroke-width="1.5"/>
<line x1="449.10" y1="903.50" x2="449.10" y2="935.20" stroke="#d8921c" stroke-width="1.5"/>
<line x1="427.50" y1="952.00" x2="472.20" y2="952.00" stroke="#111" stroke-width="2.0"/>
<circle cx="449.10" cy="862.60" r="3.25" fill="#d8921c"/>
<circle cx="449.10" cy="881.50" r="3.25" fill="#d8921c"/>
<circle cx="449.10" cy="894.50" r="3.25" fill="#d8921c"/>
<circle cx="449.10" cy="899.00" r="3.25" fill="#d8921c"/>
<circle cx="449.10" cy="903.50" r="3.25" fill="#d8921c"/>
<circle cx="449.10" cy="921.00" r="3.25" fill="#d8921c"/>
<circle cx="449.10" cy="923.20" r="3.25" fill="#d8921c"/>
<circle cx="449.10" cy="925.40" r="3.25" fill="#d8921c"/>
<circle cx="449.10" cy="927.60" r="3.25" fill="#d8921c"/>
<circle cx="449.10" cy="929.80" r="3.25" fill="#d8921c"/>
<circle cx="449.10" cy="932.00" r="3.25" fill="#d8921c"/>
<circle cx="449.10" cy="934.20" r="3.25" fill="#d8921c"/>
<circle cx="449.10" cy="936.40" r="3.25" fill="#d8921c"/>
<circle cx="449.10" cy="938.60" r="3.25" fill="#d8921c"/>
<circle cx="449.10" cy="940.80" r="3.25" fill="#d8921c"/>
<circle cx="449.10" cy="943.00" r="3.25" fill="#d8921c"/>
<circle cx="449.10" cy="945.20" r="3.25" fill="#d8921c"/>
<circle cx="449.10" cy="947.40" r="3.25" fill="#d8921c"/>
<circle cx="449.10" cy="949.60" r="3.25" fill="#d8921c"/>
<circle cx="449.10" cy="951.80" r="3.25" fill="#d8921c"/>
<circle cx="449.10" cy="954.00" r="3.25" fill="#d8921c"/>
<circle cx="449.10" cy="956.20" r="3.25" fill="#d8921c"/>
<circle cx="449.10" cy="958.40" r="3.25" fill="#d8921c"/>
<circle cx="449.10" cy="960.60" r="3.25" fill="#d8921c"/>
<circle cx="449.10" cy="962.80" r="3.25" fill="#d8921c"/>
<circle cx="449.10" cy="965.00" r="3.25" fill="#d8921c"/>
<circle cx="449.10" cy="967.20" r="3.25" fill="#d8921c"/>
<circle cx="449.10" cy="969.40" r="3.25" fill="#d8921c"/>
<rect x="132.00" y="977.00" width="106.60" height="20.00" fill="none" stroke="#78a4cc" stroke-width="1.3" stroke-dasharray="3.4,2.4"/>
<text x="97.50" y="994.00" font-size="8.1" text-anchor="middle" font-weight="normal" fill="#1a1a1a" stroke="#1a1a1a" stroke-width="0.2">C1D8</text>
<text x="156.10" y="994.00" font-size="8.1" text-anchor="middle" font-weight="normal" fill="#1a1a1a" stroke="#1a1a1a" stroke-width="0.2">C1D15</text>
<text x="215.00" y="994.00" font-size="8.1" text-anchor="middle" font-weight="normal" fill="#1a1a1a" stroke="#1a1a1a" stroke-width="0.2">C2D1</text>
<text x="273.70" y="994.00" font-size="8.1" text-anchor="middle" font-weight="normal" fill="#1a1a1a" stroke="#1a1a1a" stroke-width="0.2">C3D1</text>
<text x="332.40" y="994.00" font-size="8.1" text-anchor="middle" font-weight="normal" fill="#1a1a1a" stroke="#1a1a1a" stroke-width="0.2">C4D1</text>
<text x="390.50" y="994.00" font-size="8.1" text-anchor="middle" font-weight="normal" fill="#1a1a1a" stroke="#1a1a1a" stroke-width="0.2">C4D8</text>
<text x="449.50" y="994.00" font-size="8.1" text-anchor="middle" font-weight="normal" fill="#1a1a1a" stroke="#1a1a1a" stroke-width="0.2">EOT</text>
<line x1="215.00" y1="999.50" x2="215.00" y2="1012.50" stroke="#111" stroke-width="1.6"/>
<polygon points="212.20,1001 215.00,994.8 217.80,1001" fill="#111"/>
<line x1="273.70" y1="999.50" x2="273.70" y2="1012.50" stroke="#111" stroke-width="1.6"/>
<polygon points="270.90,1001 273.70,994.8 276.50,1001" fill="#111"/>
<line x1="332.40" y1="999.50" x2="332.40" y2="1012.50" stroke="#111" stroke-width="1.6"/>
<polygon points="329.60,1001 332.40,994.8 335.20,1001" fill="#111"/>
<path d="M63.50,1002.30 Q63.50,1008.42 68.50,1008.42 L75.60,1008.42 Q80.60,1008.42 80.60,1010.50 Q80.60,1008.42 85.60,1008.42 L92.70,1008.42 Q97.70,1008.42 97.70,1002.30" fill="none" stroke="#111" stroke-width="1.6"/>
<path d="M97.70,1002.30 Q97.70,1008.42 102.70,1008.42 L121.85,1008.42 Q126.85,1008.42 126.85,1010.50 Q126.85,1008.42 131.85,1008.42 L151.00,1008.42 Q156.00,1008.42 156.00,1002.30" fill="none" stroke="#111" stroke-width="1.6"/>
<text x="80.00" y="1024.50" font-size="8.0" text-anchor="middle" font-weight="normal" fill="#4a6858" stroke="#4a6858" stroke-width="0.2">BV</text>
<text x="127.00" y="1024.50" font-size="8.0" text-anchor="middle" font-weight="normal" fill="#b8208e" stroke="#b8208e" stroke-width="0.2">Nivo</text>
<text x="215.00" y="1024.5" font-size="8.0" text-anchor="middle"><tspan fill="#4a6858">BV</tspan><tspan fill="#333">+</tspan><tspan fill="#b8208e">Nivo</tspan></text>
<text x="273.70" y="1024.5" font-size="8.0" text-anchor="middle"><tspan fill="#4a6858">BV</tspan><tspan fill="#333">+</tspan><tspan fill="#b8208e">Nivo</tspan></text>
<text x="332.40" y="1024.5" font-size="8.0" text-anchor="middle"><tspan fill="#4a6858">BV</tspan><tspan fill="#333">+</tspan><tspan fill="#b8208e">Nivo</tspan></text>
<text x="50.00" y="1037.50" font-size="8.2" text-anchor="start" font-weight="normal" fill="#1a1a1a" stroke="#1a1a1a" stroke-width="0.2" textLength="382.5" lengthAdjust="spacingAndGlyphs">*p ≤0.05, **p ≤0.01, *** p ≤0.001, **** p ≤0.0001; post hoc Dunn’s test with Benjamini-Hochberg correction</text>
</svg>
</body></html>
